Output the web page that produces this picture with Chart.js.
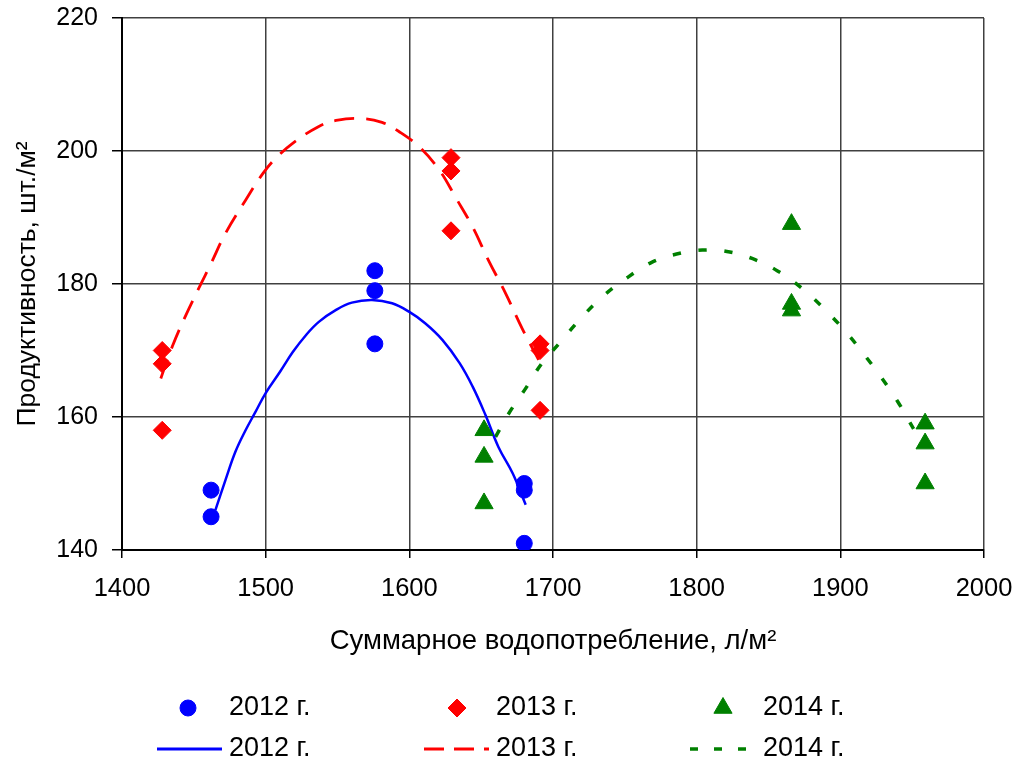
<!DOCTYPE html>
<html>
<head>
<meta charset="utf-8">
<script src="https://cdn.jsdelivr.net/npm/chart.js@4/dist/chart.umd.min.js"></script>
<style>
  html, body { margin: 0; padding: 0; background: #ffffff; }
  #wrap { width: 1021px; height: 764px; }
</style>
</head>
<body>
<div id="wrap"><canvas id="chart" width="1021" height="764"></canvas></div>
<script>
// Series labels
const seriesNames = ['2012 г.', '2013 г.', '2014 г.'];

// Observations: total water use (l/m²) vs. productivity (pcs/m²)
const water2012 = [1462, 1462, 1576, 1576, 1576, 1680, 1680, 1680];
const yield2012 = [149, 145, 182, 179, 171, 150, 149, 141];

const water2013 = [1428, 1428, 1428, 1629, 1629, 1629, 1691, 1691, 1691];
const yield2013 = [170, 168, 158, 199, 197, 188, 171, 170, 161];

const water2014 = [1652, 1652, 1652, 1866, 1866, 1866, 1959, 1959, 1959];
const yield2014 = [158, 154, 147, 189, 177, 176, 159, 156, 150];

// Trend curves for each season
const trendX2012 = [1465, 1472, 1479, 1486, 1493, 1500, 1510, 1519, 1528, 1537, 1549, 1560, 1574, 1588, 1600, 1611, 1623, 1635, 1644, 1653, 1662, 1672, 1681];
const trendY2012 = [146.0, 150.5, 154.8, 158.0, 160.8, 163.6, 166.8, 169.8, 172.3, 174.3, 176.1, 177.2, 177.6, 177.1, 175.8, 174.1, 171.6, 168.1, 164.6, 160.3, 155.5, 151.5, 146.8];

const trendX2013 = [1427, 1435, 1444, 1454, 1462, 1472, 1486, 1498, 1507, 1519, 1537, 1549, 1565, 1581, 1593, 1607, 1621, 1632, 1644, 1655, 1667, 1679, 1690];
const trendY2013 = [165.8, 170.6, 175.1, 179.6, 183.1, 187.6, 192.6, 196.6, 198.9, 201.2, 203.7, 204.6, 204.9, 204.3, 202.9, 200.6, 197.1, 193.1, 188.6, 183.6, 178.6, 173.1, 168.6];

const trendX2014 = [1660, 1670, 1681, 1692, 1704, 1718, 1734, 1752, 1769, 1786, 1804, 1821, 1839, 1856, 1873, 1890, 1905, 1918, 1929, 1940, 1951];
const trendY2014 = [157.0, 160.8, 164.3, 168.0, 171.0, 174.5, 178.0, 181.0, 183.3, 184.5, 185.1, 184.9, 183.8, 182.0, 179.4, 176.0, 172.5, 169.0, 165.8, 162.3, 158.2];

// Axis ticks
const xTickValues = [1400, 1500, 1600, 1700, 1800, 1900, 2000];
const yTickValues = [140, 160, 180, 200, 220];

const xTitle = 'Суммарное водопотребление, л/м²';
const yTitle = 'Продуктивность, шт./м²';

const FONT = "'Liberation Sans', Arial, sans-serif";
const BLUE = '#0000ff', RED = '#ff0000', GREEN = '#008000';

const pts = (xs, ys) => xs.map((x, i) => ({ x: x, y: ys[i] }));

// Legend drawn under the plot: point markers in the first row, trend lines in the second
const legendLayout = {
  markerRowY: 708,
  lineRowY: 749,
  fontSize: 27,
  items: [
    { markerX: 188, textX: 229, line: [157, 222], color: BLUE, style: 'circle', radius: 8, dash: [], width: 3 },
    { markerX: 457, textX: 496, line: [424, 489], color: RED, style: 'rectRot', radius: 9, dash: [20, 10], width: 3 },
    { markerX: 723, textX: 763, line: [690, 755], color: GREEN, style: 'triangle', radius: 10.5, dash: [8, 16], width: 3.5 }
  ]
};

const bottomLegend = {
  id: 'bottomLegend',
  afterDraw(chart) {
    const ctx = chart.ctx;
    ctx.save();
    ctx.font = legendLayout.fontSize + 'px ' + FONT;
    ctx.textBaseline = 'middle';
    ctx.textAlign = 'left';
    legendLayout.items.forEach((it, i) => {
      ctx.fillStyle = it.color;
      ctx.strokeStyle = it.color;
      ctx.lineWidth = 1;
      Chart.helpers.drawPoint(ctx, { pointStyle: it.style, radius: it.radius, rotation: 0, borderWidth: 1 }, it.markerX, legendLayout.markerRowY);
      ctx.beginPath();
      ctx.setLineDash(it.dash);
      ctx.lineWidth = it.width;
      ctx.moveTo(it.line[0], legendLayout.lineRowY);
      ctx.lineTo(it.line[1], legendLayout.lineRowY);
      ctx.stroke();
      ctx.setLineDash([]);
      ctx.fillStyle = '#000000';
      ctx.fillText(seriesNames[i], it.textX, legendLayout.markerRowY);
      ctx.fillText(seriesNames[i], it.textX, legendLayout.lineRowY);
    });
    ctx.restore();
  }
};

const scatterSet = (label, data, color, style, radius) => ({
  type: 'scatter', label, data,
  pointStyle: style, pointRadius: radius, pointHoverRadius: radius,
  backgroundColor: color, borderColor: color, borderWidth: 1,
  showLine: false, order: 0
});

const trendSet = (label, data, color, dash, width) => ({
  type: 'line', label, data,
  borderColor: color, borderWidth: width, borderDash: dash,
  pointRadius: 0, fill: false, tension: 0.4, order: 1
});

// Fixed axis boxes so the plot area sits at the same place every time
const fixX = s => { s.height = 214; s.paddingLeft = 0; s.paddingRight = 0; };
const fixY = s => { s.width = 122; s.paddingTop = 0; s.paddingBottom = 0; };

new Chart(document.getElementById('chart'), {
  data: {
    datasets: [
      scatterSet(seriesNames[0], pts(water2012, yield2012), BLUE, 'circle', 8),
      scatterSet(seriesNames[1], pts(water2013, yield2013), RED, 'rectRot', 9),
      scatterSet(seriesNames[2], pts(water2014, yield2014), GREEN, 'triangle', 10.5),
      trendSet(seriesNames[0], pts(trendX2012, trendY2012), BLUE, [], 2.5),
      trendSet(seriesNames[1], pts(trendX2013, trendY2013), RED, [20, 12], 2.8),
      trendSet(seriesNames[2], pts(trendX2014, trendY2014), GREEN, [8, 18], 3.5)
    ]
  },
  options: {
    responsive: false,
    animation: false,
    devicePixelRatio: 1,
    layout: { padding: { top: 18, right: 37, left: 0, bottom: 0 } },
    plugins: { legend: { display: false }, tooltip: { enabled: false } },
    scales: {
      x: {
        type: 'linear',
        min: xTickValues[0], max: xTickValues[xTickValues.length - 1],
        afterBuildTicks: s => { s.ticks = xTickValues.map(v => ({ value: v })); },
        afterFit: fixX,
        ticks: { color: '#000', font: { family: FONT, size: 25.5 }, padding: 16, maxRotation: 0, callback: v => String(v) },
        grid: { color: '#404040', lineWidth: 1.5, tickLength: 8, tickColor: '#000', tickWidth: 1.5 },
        border: { color: '#000', width: 2 },
        title: { display: true, text: xTitle, color: '#000', font: { family: FONT, size: 27.5 }, padding: { bottom: 106 } }
      },
      y: {
        type: 'linear',
        min: yTickValues[0], max: yTickValues[yTickValues.length - 1],
        afterBuildTicks: s => { s.ticks = yTickValues.map(v => ({ value: v })); },
        afterFit: fixY,
        ticks: { color: '#000', font: { family: FONT, size: 25 }, padding: 14, callback: v => String(v) },
        grid: { color: '#404040', lineWidth: 1.5, tickLength: 10, tickColor: '#000', tickWidth: 1.5 },
        border: { color: '#000', width: 2 },
        title: { display: true, text: yTitle, color: '#000', font: { family: FONT, size: 26.5 }, padding: { top: 12 } }
      }
    }
  },
  plugins: [bottomLegend]
});
</script>
</body>
</html>
